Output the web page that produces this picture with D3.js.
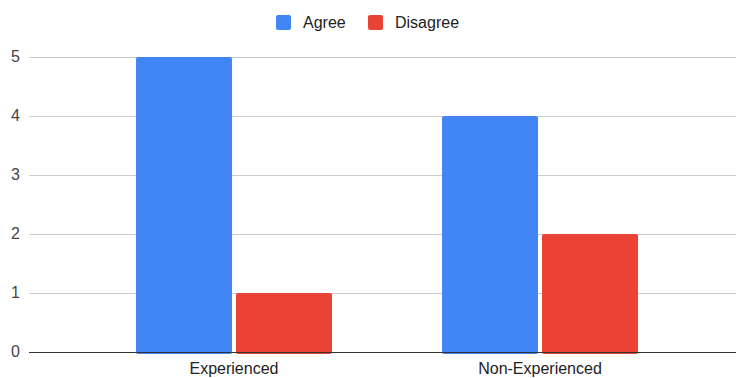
<!DOCTYPE html>
<html>
<head>
<meta charset="utf-8">
<script src="https://cdn.jsdelivr.net/npm/d3@7"></script>
<style>
  html, body { margin: 0; padding: 0; background: #fff; }
  svg { display: block; font-family: "Liberation Sans", Arial, sans-serif; }
</style>
</head>
<body>
<svg id="chart" width="736" height="378"></svg>
<script>
// Survey responses by experience group
const categories = ["Experienced", "Non-Experienced"];
const seriesNames = ["Agree", "Disagree"];
const agree = [5, 4];
const disagree = [1, 2];
const yTicks = [0, 1, 2, 3, 4, 5];
const colors = ["#4285F4", "#EA4335"];

const svg = d3.select("#chart");
const plot = { left: 29, right: 736, top: 57, bottom: 352 };

const y = d3.scaleLinear().domain([0, 5]).range([plot.bottom, plot.top]);
const x0 = d3.scaleBand().domain(categories).range([81, 693]).padding(0);
const groupW = 196;
const x1 = d3.scaleBand().domain(seriesNames)
  .range([x0.bandwidth() / 2 - groupW / 2, x0.bandwidth() / 2 + groupW / 2])
  .paddingInner(0.04);

// gridlines
svg.append("g")
  .selectAll("line")
  .data(yTicks.filter(d => d !== 0))
  .join("line")
  .attr("x1", plot.left).attr("x2", plot.right)
  .attr("y1", d => y(d) + 0.5).attr("y2", d => y(d) + 0.5)
  .attr("stroke", "#cccccc").attr("stroke-width", 1);

// y tick labels
svg.append("g")
  .selectAll("text")
  .data(yTicks)
  .join("text")
  .attr("x", 20).attr("y", d => y(d) + 5)
  .attr("text-anchor", "end")
  .attr("font-size", 16)
  .attr("fill", "#444")
  .text(d => d);

// bars
const rows = categories.map((c, i) => ({ cat: c, vals: [agree[i], disagree[i]] }));
const groups = svg.append("g").selectAll("g")
  .data(rows)
  .join("g")
  .attr("transform", d => `translate(${x0(d.cat)},0)`);

groups.selectAll("rect")
  .data(d => d.vals.map((v, j) => ({ name: seriesNames[j], v, j })))
  .join("rect")
  .attr("x", d => x1(d.name))
  .attr("width", x1.bandwidth())
  .attr("y", d => y(d.v))
  .attr("height", d => y(0) - y(d.v) + 2)
  .attr("rx", 2)
  .attr("fill", d => colors[d.j]);

// baseline
svg.append("line")
  .attr("x1", plot.left).attr("x2", plot.right)
  .attr("y1", y(0) + 0.5).attr("y2", y(0) + 0.5)
  .attr("stroke", "#333").attr("stroke-width", 1);

// x labels
svg.append("g")
  .selectAll("text")
  .data(categories)
  .join("text")
  .attr("x", d => x0(d) + x0.bandwidth() / 2)
  .attr("y", 374)
  .attr("text-anchor", "middle")
  .attr("font-size", 16)
  .attr("fill", "#222")
  .text(d => d);

// legend
const legendItems = [
  { name: "Agree", color: colors[0], x: 276 },
  { name: "Disagree", color: colors[1], x: 368 }
];
const lg = svg.append("g").selectAll("g").data(legendItems).join("g")
  .attr("transform", d => `translate(${d.x},15)`);
lg.append("rect").attr("width", 15).attr("height", 15).attr("rx", 2)
  .attr("fill", d => d.color);
lg.append("text").attr("x", 27).attr("y", 13)
  .attr("font-size", 16).attr("fill", "#222")
  .text(d => d.name);
</script>
</body>
</html>
